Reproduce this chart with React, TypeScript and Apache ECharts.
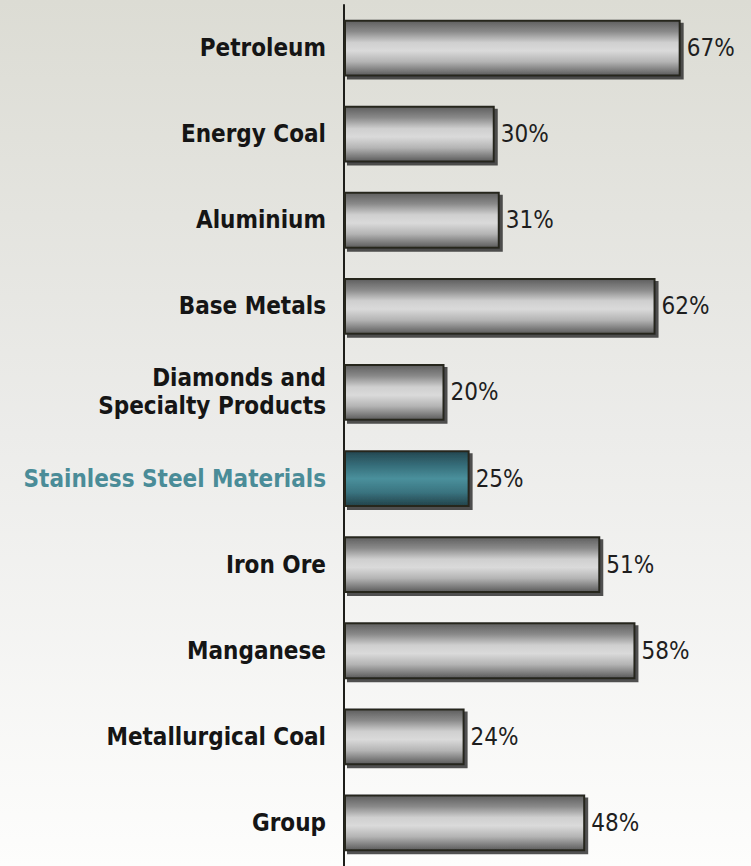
import React, { useEffect, useRef } from "react";
import * as echarts from "echarts";

const categories = [
  "Petroleum",
  "Energy Coal",
  "Aluminium",
  "Base Metals",
  "Diamonds and\nSpecialty Products",
  "Stainless Steel Materials",
  "Iron Ore",
  "Manganese",
  "Metallurgical Coal",
  "Group",
];
const values = [67, 30, 31, 62, 20, 25, 51, 58, 24, 48];
const highlighted = "Stainless Steel Materials";

const FONT = '"Liberation Sans Narrow", "DejaVu Sans Condensed", "Liberation Sans", sans-serif';

const grayGrad = new echarts.graphic.LinearGradient(0, 0, 0, 1, [
  { offset: 0, color: "#5e5e5e" },
  { offset: 0.2, color: "#8a8a8a" },
  { offset: 0.4, color: "#cfcfcf" },
  { offset: 0.55, color: "#dadada" },
  { offset: 0.75, color: "#b4b4b4" },
  { offset: 1, color: "#5a5a5a" },
]);
const tealGrad = new echarts.graphic.LinearGradient(0, 0, 0, 1, [
  { offset: 0, color: "#244650" },
  { offset: 0.25, color: "#356c78" },
  { offset: 0.5, color: "#4a909c" },
  { offset: 0.75, color: "#3a7480" },
  { offset: 1, color: "#22424a" },
]);

export default function App() {
  const ref = useRef<HTMLDivElement>(null);
  useEffect(() => {
    const chart = echarts.init(ref.current!, null, { renderer: "svg" });
    chart.setOption({
      animation: false,
      grid: { left: 344, top: 5, width: 402, height: 864 },
      xAxis: {
        type: "value",
        min: 0,
        max: 80,
        show: false,
      },
      yAxis: {
        type: "category",
        inverse: true,
        data: categories,
        axisTick: { show: false },
        axisLine: { lineStyle: { color: "#1e1e1a", width: 2 } },
        axisLabel: {
          margin: 18,
          fontFamily: FONT,
          fontWeight: "bold",
          fontSize: 24,
          lineHeight: 28,
          align: "right",
          color: (v: string) => (v === highlighted ? "#4a8c98" : "#151515"),
        },
      },
      series: [
        {
          type: "bar",
          barWidth: "66%",
          data: values.map((v, i) => ({
            value: v,
            itemStyle: {
              color: categories[i] === highlighted ? tealGrad : grayGrad,
            },
          })),
          itemStyle: {
            borderColor: "#26261f",
            borderWidth: 2,
            shadowColor: "rgba(40,40,40,0.8)",
            shadowOffsetX: 3,
            shadowOffsetY: 3,
            shadowBlur: 0,
          },
          label: {
            show: true,
            position: "right",
            distance: 6,
            formatter: "{c}%",
            fontFamily: FONT,
            fontSize: 24,
            color: "#1e1e1e",
          },
        },
      ],
    });
    return () => chart.dispose();
  }, []);
  return (
    <div
      style={{
        position: "fixed",
        left: 0,
        top: 0,
        width: 751,
        height: 866,
        background: "linear-gradient(to bottom, #dcdcd4 0%, #ececea 50%, #fdfdfc 100%)",
      }}
    >
      <div ref={ref} style={{ width: 751, height: 866 }} />
    </div>
  );
}
